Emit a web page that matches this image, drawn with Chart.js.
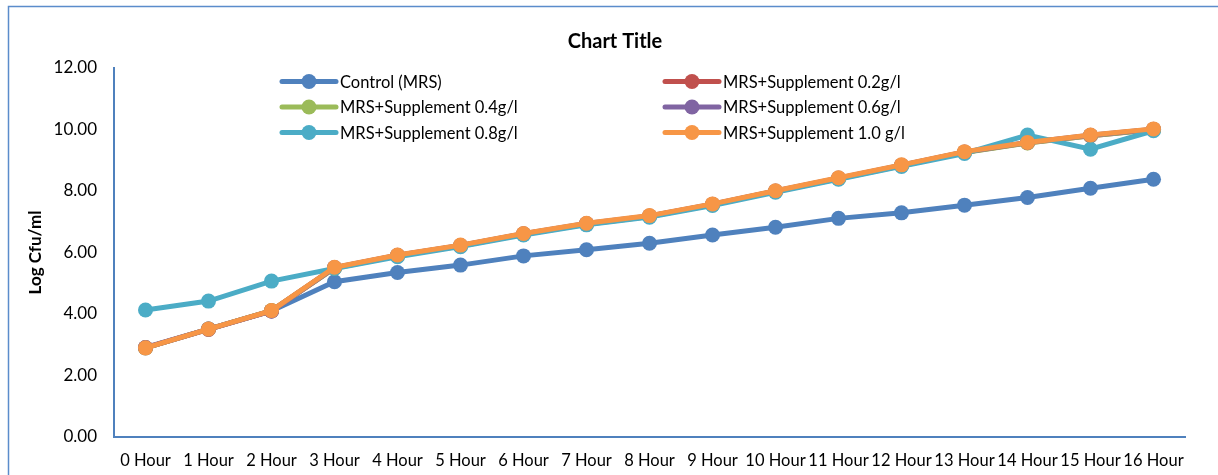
<!DOCTYPE html>
<html>
<head>
<meta charset="utf-8">
<script src="https://cdn.jsdelivr.net/npm/chart.js@4/dist/chart.umd.min.js"></script>
<style>
  html, body { margin: 0; padding: 0; background: #ffffff; }
  #wrap { width: 1218px; height: 475px; position: relative; }
</style>
</head>
<body>
<div id="wrap"><canvas id="c" width="1218" height="475"></canvas></div>
<script>
// Sampling times
const hours = ['0 Hour', '1 Hour', '2 Hour', '3 Hour', '4 Hour', '5 Hour', '6 Hour', '7 Hour', '8 Hour',
               '9 Hour', '10 Hour', '11 Hour', '12 Hour', '13 Hour', '14 Hour', '15 Hour', '16 Hour'];

// Viable counts, Log Cfu/ml
const controlMRS = [2.90, 3.51, 4.10, 5.05, 5.35, 5.59, 5.89, 6.09, 6.30, 6.57, 6.82, 7.11, 7.29, 7.54, 7.79, 8.09, 8.38];
const supp02 = [2.90, 3.50, 4.10, 5.50, 5.90, 6.22, 6.60, 6.93, 7.18, 7.56, 7.99, 8.41, 8.83, 9.26, 9.57, 9.80, 10.00];
const supp04 = [2.90, 3.51, 4.11, 5.49, 5.89, 6.21, 6.59, 6.92, 7.17, 7.55, 7.98, 8.40, 8.82, 9.25, 9.56, 9.80, 9.99];
const supp06 = [2.91, 3.51, 4.10, 5.51, 5.91, 6.23, 6.61, 6.94, 7.19, 7.57, 8.00, 8.42, 8.84, 9.27, 9.58, 9.81, 10.01];
const supp08 = [4.13, 4.42, 5.07, 5.48, 5.86, 6.19, 6.57, 6.90, 7.15, 7.53, 7.96, 8.38, 8.80, 9.22, 9.82, 9.36, 9.96];
const supp10 = [2.90, 3.51, 4.11, 5.52, 5.92, 6.24, 6.62, 6.95, 7.20, 7.58, 8.01, 8.43, 8.85, 9.28, 9.58, 9.82, 10.02];

const yTicks = [0, 2, 4, 6, 8, 10, 12];
const chartTitle = 'Chart Title';

const FONT = "Lato, 'Open Sans', 'Liberation Sans', sans-serif";
const AXIS_BLUE = '#4F81BD';

function series(label, data, color, order) {
  return {
    label, data, order,
    borderColor: color,
    backgroundColor: color,
    pointBackgroundColor: color,
    pointBorderColor: color,
    borderWidth: 5,
    pointRadius: 7.5,
    pointHoverRadius: 7.5,
    pointBorderWidth: 0,
    tension: 0
  };
}

// Outer frame of the chart object and the heading above the plot
const framePlugin = {
  id: 'frame',
  beforeDraw(chart) {
    const ctx = chart.ctx;
    ctx.save();
    ctx.strokeStyle = '#5B8CCB';
    ctx.lineWidth = 1.5;
    ctx.strokeRect(8.5, 6.5, 1400, 600);
    ctx.fillStyle = '#000000';
    ctx.font = "bold 20px " + FONT;
    ctx.textAlign = 'center';
    ctx.textBaseline = 'middle';
    ctx.fillText(chartTitle, 615, 42);
    ctx.restore();
  }
};

// Two-column legend drawn over the plot area
const legendGrid = {
  id: 'legendGrid',
  afterDraw(chart) {
    const ctx = chart.ctx;
    const cols = [282, 665];
    const rows = [81.5, 107, 132.5];
    ctx.save();
    ctx.font = "16.5px " + FONT;
    ctx.textBaseline = 'middle';
    ctx.textAlign = 'left';
    chart.data.datasets.forEach((ds, i) => {
      const x = cols[i % 2];
      const y = rows[Math.floor(i / 2)];
      ctx.strokeStyle = ds.borderColor;
      ctx.lineWidth = 5;
      ctx.lineCap = 'round';
      ctx.beginPath();
      ctx.moveTo(x, y);
      ctx.lineTo(x + 54, y);
      ctx.stroke();
      ctx.fillStyle = ds.borderColor;
      ctx.beginPath();
      ctx.arc(x + 27, y, 7.5, 0, Math.PI * 2);
      ctx.fill();
      ctx.fillStyle = '#000000';
      ctx.fillText(ds.label, x + 58, y + 1);
    });
    ctx.restore();
  }
};

new Chart(document.getElementById('c'), {
  type: 'line',
  data: {
    labels: hours,
    datasets: [
      series('Control (MRS)', controlMRS, '#4F81BD', 6),
      series('MRS+Supplement 0.2g/l', supp02, '#C0504D', 5),
      series('MRS+Supplement 0.4g/l', supp04, '#9BBB59', 4),
      series('MRS+Supplement 0.6g/l', supp06, '#8064A2', 3),
      series('MRS+Supplement 0.8g/l', supp08, '#4BACC6', 2),
      series('MRS+Supplement 1.0 g/l', supp10, '#F79646', 1)
    ]
  },
  options: {
    responsive: false,
    animation: false,
    layout: { padding: { left: 10, right: 33, top: 68, bottom: 5 } },
    plugins: {
      legend: { display: false },
      tooltip: { enabled: false },
      title: { display: false }
    },
    scales: {
      x: {
        type: 'category',
        offset: true,
        afterFit(scale) { scale.height = 33; },
        grid: { display: true, color: 'rgba(0,0,0,0)', drawTicks: false },
        border: { display: true, color: AXIS_BLUE, width: 2 },
        ticks: {
          color: '#000000',
          font: { family: FONT, size: 16.5 },
          padding: 14,
          maxRotation: 0,
          minRotation: 0,
          autoSkip: false
        }
      },
      y: {
        min: 0,
        max: 12,
        afterFit(scale) { scale.width = 104; },
        afterBuildTicks(scale) { scale.ticks = yTicks.map(v => ({ value: v })); },
        grid: { display: true, color: 'rgba(0,0,0,0)', drawTicks: false },
        border: { display: true, color: AXIS_BLUE, width: 2 },
        ticks: {
          color: '#000000',
          font: { family: FONT, size: 17 },
          padding: 17,
          callback: v => Number(v).toFixed(2)
        },
        title: {
          display: true,
          text: 'Log Cfu/ml',
          color: '#000000',
          font: { family: FONT, size: 17, weight: 'bold' },
          padding: { top: 15, bottom: 0 }
        }
      }
    }
  },
  plugins: [framePlugin, legendGrid]
});
</script>
</body>
</html>
